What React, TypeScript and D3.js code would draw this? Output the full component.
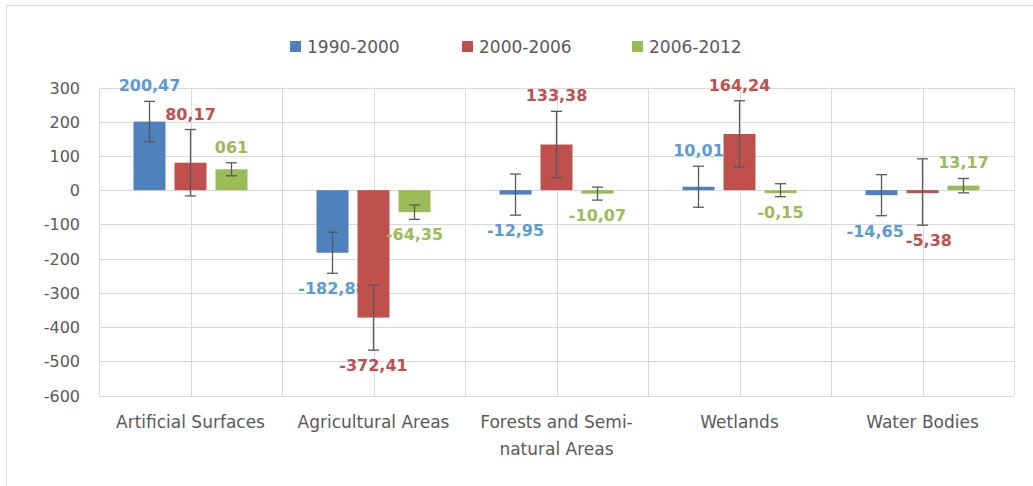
import React, { useEffect, useRef } from 'react'
import * as d3 from 'd3'

const categories = ['Artificial Surfaces', 'Agricultural Areas', 'Forests and Semi-natural Areas', 'Wetlands', 'Water Bodies']
const categoryLines = [['Artificial Surfaces'], ['Agricultural Areas'], ['Forests and Semi-', 'natural Areas'], ['Wetlands'], ['Water Bodies']]
const seriesNames = ['1990-2000', '2000-2006', '2006-2012']
const values1990 = [200.47, -182.88, -12.95, 10.01, -14.65]
const values2000 = [80.17, -372.41, 133.38, 164.24, -5.38]
const values2006 = [61, -64.35, -10.07, -0.15, 13.17]
const labels1990 = ['200,47', '-182,88', '-12,95', '10,01', '-14,65']
const labels2000 = ['80,17', '-372,41', '133,38', '164,24', '-5,38']
const labels2006 = ['061', '-64,35', '-10,07', '-0,15', '13,17']
const errors1990 = [59, 60, 60, 60, 60]
const errors2000 = [97, 95, 97, 97, 97]
const errors2006 = [19, 21, 19, 19, 21]
const yTicks = [300, 200, 100, 0, -100, -200, -300, -400, -500, -600]

const barColors = ['#4F81BD', '#C0504D', '#9BBB59']
const labelColors = ['#5B9BD5', '#C0504D', '#9BBB59']

const App = () => {
  const ref = useRef<SVGSVGElement>(null)

  useEffect(() => {
    const width = 1033
    const height = 486
    const left = 99
    const right = 1014
    const top = 87.5
    const bottom = 395.5
    const font = '"DejaVu Sans", sans-serif'

    const svg = d3.select(ref.current)
    svg.selectAll('*').remove()
    svg.attr('width', width).attr('height', height)

    svg.append('rect') // chart frame
      .attr('x', 6.5).attr('y', 5.5)
      .attr('width', 1040).attr('height', 500)
      .attr('fill', '#fff').attr('stroke', '#d9d9d9')

    const x0 = d3.scaleBand().domain(categories).range([left, right]).padding(0)
    const x1 = d3.scaleBand().domain(seriesNames).range([0, x0.bandwidth()])
      .paddingInner(0.22).paddingOuter(0.842)
    const y = d3.scaleLinear().domain([-600, 300]).range([bottom, top])

    const grid = svg.append('g').attr('stroke', '#d9d9d9').attr('stroke-width', 1)
    yTicks.forEach(t => {
      grid.append('line')
        .attr('x1', left).attr('x2', right)
        .attr('y1', Math.round(y(t)) + 0.5).attr('y2', Math.round(y(t)) + 0.5)
    })
    const vx: number[] = []
    categories.forEach(c => {
      vx.push(x0(c)!, x0(c)! + x0.bandwidth() / 2)
    })
    vx.push(right)
    vx.forEach(v => {
      grid.append('line')
        .attr('x1', Math.round(v) + 0.5).attr('x2', Math.round(v) + 0.5)
        .attr('y1', top).attr('y2', bottom)
    })

    // y axis labels
    svg.append('g').selectAll('text').data(yTicks).enter().append('text')
      .attr('x', 80).attr('y', d => y(d) + 6)
      .attr('text-anchor', 'end')
      .style('font-family', font).style('font-size', '16px').attr('fill', '#595959')
      .text(d => d)

    // category labels
    categoryLines.forEach((lines, i) => {
      const cxs = x0(categories[i])! + x0.bandwidth() / 2
      const t = svg.append('text')
        .attr('x', cxs)
        .attr('y', 428)
        .attr('text-anchor', 'middle')
        .style('font-family', font).style('font-size', '17px').attr('fill', '#595959')
      lines.forEach((l, j) => {
        t.append('tspan').attr('x', cxs).attr('dy', j === 0 ? 0 : 27).text(l)
      })
    })

    const allValues = [values1990, values2000, values2006]
    const allErrors = [errors1990, errors2000, errors2006]
    const allLabels = [labels1990, labels2000, labels2006]
    const labelNodes: SVGTextElement[][] = categories.map(() => [])

    seriesNames.forEach((s, si) => {
      const g = svg.append('g')
      const rows = categories.map((c, i) => ({
        c, i, v: allValues[si][i], e: allErrors[si][i], l: allLabels[si][i]
      }))
      g.selectAll('rect').data(rows).enter().append('rect')
        .attr('x', d => x0(d.c)! + x1(s)!)
        .attr('y', d => y(Math.max(0, d.v)))
        .attr('width', x1.bandwidth())
        .attr('height', d => Math.max(3, Math.abs(y(d.v) - y(0))))
        .attr('fill', barColors[si])

      const cx = (d: any) => x0(d.c)! + x1(s)! + x1.bandwidth() / 2
      const eb = g.append('g').attr('stroke', '#595959').attr('stroke-width', 1.3)
      rows.forEach(d => {
        const xc = cx(d)
        const y1 = y(d.v + d.e)
        const y2 = y(d.v - d.e)
        eb.append('line').attr('x1', xc).attr('x2', xc).attr('y1', y1).attr('y2', y2)
        eb.append('line').attr('x1', xc - 5.5).attr('x2', xc + 5.5).attr('y1', y1).attr('y2', y1)
        eb.append('line').attr('x1', xc - 5.5).attr('x2', xc + 5.5).attr('y1', y2).attr('y2', y2)
      })

      g.selectAll('text').data(rows).enter().append('text')
        .attr('x', d => cx(d))
        .attr('y', d => d.v >= 0 ? y(d.v + d.e) - 10 : y(d.v - d.e) + 21)
        .attr('text-anchor', 'middle')
        .style('font-family', font).style('font-size', '16px').style('font-weight', 'bold')
        .attr('fill', labelColors[si])
        .text(d => d.l)
        .each(function (d) { labelNodes[d.i].push(this as SVGTextElement) })
    })

    // push apart labels that collide inside a group
    labelNodes.forEach(nodes => {
      for (let k = 1; k < nodes.length; k++) {
        const a = nodes[k - 1].getBBox()
        const b = nodes[k].getBBox()
        const ox = a.x + a.width + 2 - b.x
        const oy = Math.min(a.y + a.height, b.y + b.height) - Math.max(a.y, b.y)
        if (ox > 0 && oy > 0) {
          const ax = +nodes[k - 1].getAttribute('x')!
          const bx = +nodes[k].getAttribute('x')!
          nodes[k - 1].setAttribute('x', String(ax - ox / 2))
          nodes[k].setAttribute('x', String(bx + ox / 2))
        }
      }
    })

    // legend
    const legendX = [290, 462, 632]
    seriesNames.forEach((s, i) => {
      svg.append('rect').attr('x', legendX[i]).attr('y', 41)
        .attr('width', 11).attr('height', 11).attr('fill', barColors[i])
      svg.append('text').attr('x', legendX[i] + 17).attr('y', 53)
        .style('font-family', font).style('font-size', '17px').attr('fill', '#595959')
        .text(s)
    })
  }, [])

  return (
    <div style={{ position: 'absolute', left: 0, top: 0 }}>
      <svg ref={ref} />
    </div>
  )
}

export default App
